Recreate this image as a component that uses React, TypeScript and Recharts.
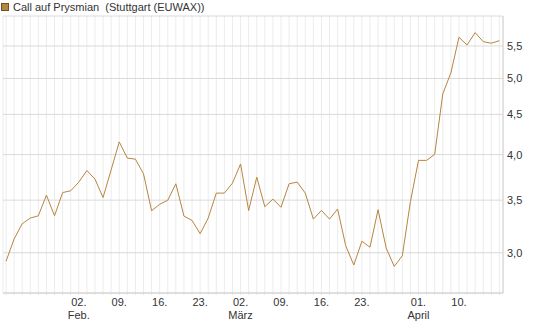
import { LineChart, Line, XAxis, YAxis, CartesianGrid } from "recharts";

const dates = [
  "20.01.", "21.01.", "22.01.", "23.01.", "26.01.", "27.01.", "28.01.", "29.01.", "30.01.",
  "02.02.", "03.02.", "04.02.", "05.02.", "06.02.",
  "09.02.", "10.02.", "11.02.", "12.02.", "13.02.",
  "16.02.", "17.02.", "18.02.", "19.02.", "20.02.",
  "23.02.", "24.02.", "25.02.", "26.02.", "27.02.",
  "02.03.", "03.03.", "04.03.", "05.03.", "06.03.",
  "09.03.", "10.03.", "11.03.", "12.03.", "13.03.",
  "16.03.", "17.03.", "18.03.", "19.03.", "20.03.",
  "23.03.", "24.03.", "25.03.", "26.03.", "27.03.",
  "30.03.", "31.03.", "01.04.", "02.04.",
  "07.04.", "08.04.", "09.04.", "10.04.",
  "13.04.", "14.04.", "15.04.", "16.04.", "17.04.",
];

const prices = [
  2.925, 3.123, 3.266, 3.321, 3.343, 3.552, 3.343, 3.579, 3.597,
  3.69, 3.818, 3.723, 3.527, 3.825,
  4.152, 3.959, 3.947, 3.781, 3.393,
  3.458, 3.499, 3.672, 3.34, 3.298,
  3.172, 3.321, 3.573, 3.573, 3.679,
  3.891, 3.395, 3.744, 3.433, 3.511,
  3.428, 3.672, 3.69, 3.573, 3.311,
  3.396, 3.311, 3.41, 3.062, 2.894,
  3.103, 3.049, 3.403, 3.042, 2.882,
  2.974, 3.486, 3.933, 3.933,
  4.003, 4.779, 5.082, 5.642,
  5.516, 5.719, 5.57, 5.544, 5.586,
];

const tickDates = ["02.02.", "09.02.", "16.02.", "23.02.", "02.03.", "09.03.", "16.03.", "23.03.", "01.04.", "10.04."];
const tickDays = ["02.", "09.", "16.", "23.", "02.", "09.", "16.", "23.", "01.", "10."];
const tickMonths = ["Feb.", "", "", "", "März", "", "", "", "April", ""];

const yTicks = [3, 3.5, 4, 4.5, 5, 5.5];

const data = dates.map((d, i) => ({ date: d, value: prices[i] }));

const FONT = '"Liberation Sans", Arial, sans-serif';
const LINE = "#b8853f";

function DateTick(props: any) {
  const { x, y, payload } = props;
  const k = tickDates.indexOf(payload.value);
  if (k < 0) return <g />;
  return (
    <g>
      <text x={x} y={y + 11} textAnchor="middle" fontSize={11} fill="#333" fontFamily={FONT}>
        {tickDays[k]}
      </text>
      {tickMonths[k] && (
        <text x={x} y={y + 24} textAnchor="middle" fontSize={11} fill="#333" fontFamily={FONT}>
          {tickMonths[k]}
        </text>
      )}
    </g>
  );
}

export default function App() {
  return (
    <div
      style={{
        position: "absolute",
        left: 0,
        top: 0,
        width: 545,
        height: 327,
        background: "#fff",
        fontFamily: FONT,
      }}
    >
      <div
        style={{
          position: "absolute",
          left: 1,
          top: 1,
          display: "flex",
          alignItems: "center",
          fontSize: 11,
          color: "#333",
          whiteSpace: "pre",
        }}
      >
        <span
          style={{
            display: "inline-block",
            width: 6,
            height: 6,
            background: LINE,
            border: "1px solid #6b5230",
            marginRight: 4,
          }}
        />
        <span>Call auf Prysmian  (Stuttgart (EUWAX))</span>
      </div>
      <LineChart
        width={545}
        height={327}
        data={data}
        margin={{ top: 16, right: 0, bottom: 0, left: 3 }}
      >
        <CartesianGrid horizontal={false} stroke="#ececec" />
        <CartesianGrid vertical={false} stroke="#dadada" />
        <XAxis
          dataKey="date"
          interval={0}
          height={34}
          padding={{ left: 3, right: 3.6 }}
          tick={<DateTick />}
          tickSize={2}
          tickMargin={0}
          tickLine={{ stroke: "#e2e2e2" }}
          axisLine={{ stroke: "#d0d0d0" }}
        />
        <XAxis
          xAxisId="top"
          dataKey="date"
          orientation="top"
          height={0}
          tick={false}
          tickLine={false}
          axisLine={{ stroke: "#d0d0d0" }}
        />
        <YAxis
          orientation="right"
          width={42}
          type="number"
          scale="log"
          domain={[2.666, 6.005]}
          allowDataOverflow
          ticks={yTicks}
          tickFormatter={(v: number) => v.toFixed(1).replace(".", ",")}
          tickLine={false}
          tickSize={0}
          tickMargin={4}
          axisLine={{ stroke: "#d0d0d0" }}
          tick={{ fontSize: 11, fill: "#333", fontFamily: FONT }}
        />
        <YAxis
          yAxisId="left"
          orientation="left"
          width={0}
          tick={false}
          tickLine={false}
          axisLine={{ stroke: "#d0d0d0" }}
        />
        <Line
          type="linear"
          dataKey="value"
          stroke={LINE}
          strokeWidth={1}
          dot={false}
          activeDot={false}
          isAnimationActive={false}
        />
      </LineChart>
    </div>
  );
}
